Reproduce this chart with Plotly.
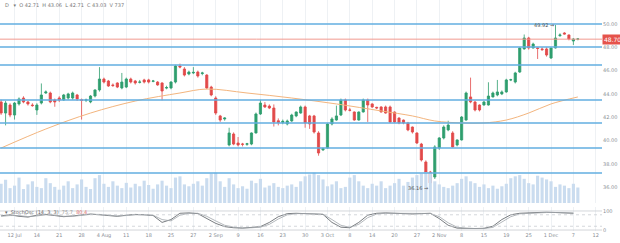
import plotly.graph_objects as go

# ---------------- data ----------------
open_ = [43.31,42.36,43.05,42.19,43.14,43.65,43.31,43.05,42.62,43.22,
         44.08,44.08,43.48,43.65,43.48,43.65,43.65,43.91,43.50,43.45,
         43.31,43.82,44.34,45.28,45.11,44.77,44.94,44.51,44.59,45.28,
         45.11,45.00,45.20,45.20,45.08,45.02,44.94,44.50,44.51,45.02,
         46.40,46.14,45.71,45.80,45.88,45.75,45.62,44.59,43.65,42.11,
         41.85,39.62,40.56,39.79,39.70,39.68,39.70,40.65,42.28,43.05,
         42.96,42.79,41.70,41.55,41.42,41.68,42.11,42.36,42.88,42.11,
         42.11,40.65,39.20,39.36,41.42,41.76,42.19,43.48,42.62,42.45,
         41.76,42.45,43.48,43.14,42.85,42.88,42.88,42.88,42.45,41.93,
         41.76,41.51,41.16,40.65,39.70,38.16,37.30,36.87,39.36,40.22,
         40.91,40.65,39.62,40.05,41.76,43.74,43.31,43.05,43.05,43.05,
         43.74,43.91,44.00,44.17,45.20,45.02,45.88,47.86,48.80,47.94,
         47.95,47.86,47.86,47.08,47.94,49.00,49.23,49.06,48.54,48.70]
close = [42.36,43.22,42.19,43.22,43.57,43.31,43.14,43.00,43.05,43.91,
         44.17,43.31,43.31,43.48,43.91,44.00,44.08,43.57,43.45,43.50,
         43.82,44.34,45.28,45.02,44.68,44.72,44.59,45.02,45.28,45.02,
         44.94,45.02,45.02,45.02,45.11,44.77,44.25,44.55,45.02,46.40,
         46.31,45.62,45.88,45.85,45.54,45.80,44.51,43.91,42.36,41.76,
         41.93,40.65,39.70,39.62,39.68,39.72,40.65,42.28,43.22,42.88,
         42.79,41.59,41.55,41.65,41.68,42.19,42.45,42.88,41.51,41.42,
         40.73,38.93,39.30,41.42,41.85,42.11,43.48,42.62,42.60,41.76,
         42.45,43.48,43.05,42.88,42.80,42.45,42.36,41.59,41.59,41.51,
         41.51,40.91,40.73,39.79,38.33,37.22,36.36,39.45,40.22,41.16,
         41.33,39.45,40.05,42.02,44.08,43.31,42.62,42.62,43.31,43.82,
         44.08,44.17,44.17,45.20,45.22,45.80,47.94,48.80,47.94,48.28,
         47.90,47.80,47.34,47.94,48.80,49.06,49.14,48.71,48.71,48.72]
high = [43.50,43.40,43.20,43.30,43.70,43.80,43.40,43.20,43.20,44.90,
        44.30,44.20,43.60,43.80,44.00,44.10,44.20,44.00,43.60,43.60,
        43.90,44.40,46.30,45.40,45.20,44.90,45.00,45.80,45.40,45.40,
        45.20,45.20,45.30,45.30,45.20,45.10,45.00,44.70,45.10,46.50,
        46.60,46.30,46.00,46.30,46.00,45.90,45.70,44.70,43.80,42.20,
        42.00,41.10,40.70,40.30,39.80,39.80,40.70,42.40,43.50,43.30,
        43.10,43.10,41.90,41.80,41.80,42.30,42.50,43.00,43.00,42.20,
        42.20,40.80,39.40,41.50,42.00,43.00,43.60,43.60,42.80,42.50,
        42.50,43.60,43.60,43.20,42.90,42.95,43.00,43.00,42.50,42.00,
        41.80,41.60,41.20,40.70,39.80,38.30,37.40,39.60,40.30,41.30,
        41.70,40.80,40.10,42.10,44.20,45.40,43.40,43.10,43.40,45.00,
        44.20,45.20,44.30,45.30,45.30,45.90,48.00,49.10,48.90,48.40,
        48.00,48.00,48.00,48.00,49.92,49.20,49.30,49.10,48.80,48.80]
low = [42.20,41.30,42.00,41.80,43.00,43.20,43.00,42.90,42.20,43.10,
       44.00,43.20,42.90,43.30,43.40,43.50,43.50,43.40,41.80,43.30,
       43.20,43.70,44.20,44.90,44.60,44.60,44.50,44.40,44.50,44.90,
       44.80,44.90,44.90,44.90,45.00,44.70,43.45,44.40,44.40,44.90,
       46.20,45.50,45.60,45.70,45.40,45.60,44.40,43.80,42.20,41.60,
       41.70,39.50,39.60,39.50,39.50,39.55,39.60,40.60,42.20,42.80,
       42.70,41.20,41.30,41.40,41.30,41.60,42.00,42.30,41.10,41.00,
       40.60,38.70,39.10,39.30,41.30,41.70,42.10,42.50,42.50,41.70,
       41.70,42.40,41.60,42.80,42.70,42.40,42.30,41.50,41.50,41.40,
       41.40,40.80,40.60,39.70,38.20,37.10,36.16,36.70,39.20,40.10,
       40.80,39.40,39.50,40.00,41.70,43.20,42.50,42.50,43.00,43.00,
       43.70,43.80,43.90,44.10,45.10,44.90,45.80,47.80,47.80,47.90,
       47.00,47.70,47.20,47.00,47.90,48.90,49.10,48.60,48.20,48.60]
volume = [620,750,480,560,820,450,600,
          700,520,480,800,640,520,430,
          560,700,480,600,760,520,450,
          800,900,620,520,700,560,480,
          650,500,620,540,720,580,460,
          600,720,560,480,820,860,600,
          540,620,700,560,800,950,980,
          700,520,800,600,480,540,460,
          720,640,780,500,560,640,520,
          480,560,600,520,700,860,920,
          980,900,760,540,600,700,480,
          520,820,900,700,560,480,620,
          560,700,480,560,640,780,560,
          680,820,900,960,1000,980,700,
          600,520,480,560,640,780,860,
          700,640,520,600,480,560,460,
          540,620,800,860,900,780,640,
          600,880,820,760,700,520,600,
          560,480,620,500]
ma_idx = [0,10,20,30,40,46,55,65,75,85,92,97,103,108,113,118,123,129]
ma_val = [39.36,40.99,42.36,43.39,44.08,44.42,44.08,43.65,43.14,42.54,
          42.11,41.68,41.51,41.51,41.76,42.36,43.14,43.74]
stoch_idx = list(range(0, 130, 2))
stoch_k = [75,80,72,68,78,82,76,70,74,80,84,80,76,72,78,82,80,76,40,55,
           88,90,86,60,35,18,12,10,14,18,40,70,86,88,86,84,82,40,15,12,
           40,78,88,90,88,86,84,86,88,60,25,10,8,8,9,20,55,80,88,90,
           92,94,92,90,88]
stoch_d = [72,76,76,70,74,80,78,72,72,78,82,82,78,74,76,80,80,78,55,48,
           78,88,88,72,48,25,15,11,12,15,30,58,80,86,87,85,83,55,25,14,
           30,65,84,88,88,87,85,85,87,70,38,15,9,8,8,14,42,70,85,88,
           90,92,92,91,89]
levels = [50.00, 48.03, 46.48, 43.48, 41.51, 39.36, 37.22]
last_price = 48.70
hi_idx, hi_val = 124, 49.92
lo_idx, lo_val = 96, 36.16
price_ticks = [36, 38, 40, 42, 44, 46, 48, 50]
x_tick_idx = [3,8,13,18,23,28,33,38,43,48,53,58,63,68,73,78,83,88,93,98,103,108,113,118,123,128,133]
x_tick_txt = ["12 Jul","14","21","28","4 Aug","11","18","25","27","2 Sep","9","16","23","30",
              "3 Oct","8","14","20","27","2 Nov","8","15","19","25","1 Dec","7","12"]

x = list(range(len(close)))
UP, DN = "#2f9e6e", "#e24a4a"
GRID = "#eef1f4"
TXT = "#8a8f96"

fig = go.Figure()
fig.add_trace(go.Bar(x=x, y=volume, marker=dict(color="#cadcef", line=dict(width=0)),
                     yaxis="y2", xaxis="x", hoverinfo="skip"))
fig.add_trace(go.Scatter(x=ma_idx, y=ma_val, mode="lines", line=dict(color="#f3b57e", width=1, shape="spline"),
                         xaxis="x", yaxis="y", hoverinfo="skip"))
fig.add_trace(go.Candlestick(x=x, open=open_, high=high, low=low, close=close,
                             increasing=dict(line=dict(color=UP, width=0.8), fillcolor=UP),
                             decreasing=dict(line=dict(color=DN, width=0.8), fillcolor=DN),
                             whiskerwidth=0, xaxis="x", yaxis="y"))
fig.add_trace(go.Scatter(x=stoch_idx, y=stoch_k, mode="lines", line=dict(color="#555a60", width=0.8),
                         xaxis="x2", yaxis="y3"))
fig.add_trace(go.Scatter(x=stoch_idx, y=stoch_d, mode="lines", line=dict(color="#a0a4aa", width=0.8),
                         xaxis="x2", yaxis="y3"))

shapes = []
for lv in levels:
    shapes.append(dict(type="line", xref="x domain", yref="y", x0=0, x1=1, y0=lv, y1=lv,
                       line=dict(color="#62aee0", width=1.5)))
shapes.append(dict(type="line", xref="x domain", yref="y", x0=0, x1=1, y0=last_price, y1=last_price,
                   line=dict(color="#f19a8f", width=1)))
for v, d in [(100, "solid"), (80, "dot"), (20, "dot"), (0, "solid")]:
    shapes.append(dict(type="line", xref="x2 domain", yref="y3", x0=0, x1=1, y0=v, y1=v,
                       line=dict(color="#c8ccd0", width=0.8, dash=d)))

ann = [
    dict(xref="paper", yref="y", x=1.0, y=last_price, text="%.2f" % last_price, showarrow=False,
         xanchor="left", font=dict(size=6, color="white", family="DejaVu Sans"),
         bgcolor="#e5534b", borderpad=1),
    dict(x=hi_idx, y=hi_val, xref="x", yref="y", text="%.2f →" % hi_val, showarrow=False,
         xanchor="right", yanchor="middle", font=dict(size=5, color="#555", family="DejaVu Sans")),
    dict(x=lo_idx, y=lo_val - 0.25, xref="x", yref="y", text="%.2f →" % lo_val, showarrow=False,
         xanchor="right", yanchor="middle", font=dict(size=5, color="#555", family="DejaVu Sans")),
    dict(xref="paper", yref="paper", x=0.005, y=1.0, yanchor="top", xanchor="left", showarrow=False,
         text="D   ▾  O 42.71  H 43.06  L 42.71  C 43.03  V 737",
         font=dict(size=5, color="#777", family="DejaVu Sans")),
    dict(xref="paper", yref="paper", x=0.005, y=0.105, yanchor="top", xanchor="left", showarrow=False,
         text="▾  StochOsc (14, 3, 3)  <span style='color:#999'>75.7</span>  <span style='color:#e07070'>80.4</span>",
         font=dict(size=5, color="#666", family="DejaVu Sans")),
]

fig.update_layout(
    width=620, height=243, margin=dict(l=0, r=18, t=0, b=12),
    paper_bgcolor="white", plot_bgcolor="white", showlegend=False,
    bargap=0.3, boxgap=0.3,
    xaxis=dict(domain=[0, 1], range=[-0.25, 134.4], showgrid=True, gridcolor=GRID, tickvals=x_tick_idx,
               showticklabels=False, rangeslider=dict(visible=False), zeroline=False, anchor="y"),
    xaxis2=dict(domain=[0, 1], range=[-0.25, 134.4], matches="x", showgrid=True, gridcolor=GRID,
                tickvals=x_tick_idx, ticktext=x_tick_txt, tickfont=dict(size=5, color=TXT, family="DejaVu Sans"),
                zeroline=False, anchor="y3", ticks=""),
    yaxis=dict(domain=[0.1212, 1], range=[34.64, 52.06], side="right", tickvals=price_ticks,
               ticktext=["%.2f" % t for t in price_ticks], tickfont=dict(size=5, color=TXT, family="DejaVu Sans"),
               showgrid=False, zeroline=False, anchor="x"),
    yaxis2=dict(domain=[0.1212, 1], overlaying="y", range=[0, 6548], visible=False, anchor="x"),
    yaxis3=dict(domain=[0, 0.104], range=[-5, 121], side="right", tickvals=[0, 100], ticktext=["0", "100"],
                tickfont=dict(size=5, color=TXT, family="DejaVu Sans"), showgrid=False, zeroline=False, anchor="x2"),
    shapes=shapes, annotations=ann,
)
fig.write_html("out.html")
